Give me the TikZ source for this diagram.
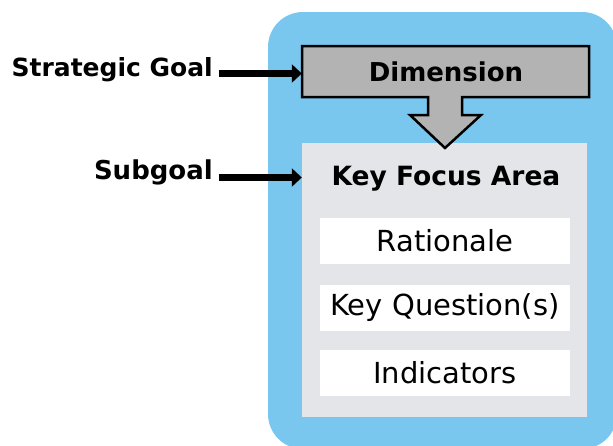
\documentclass[tikz,border=0pt]{standalone}
\usepackage{fontspec}
\setmainfont{DejaVu Sans}
\usetikzlibrary{arrows.meta}
\definecolor{bgblue}{HTML}{79C7EE}
\definecolor{dimgray}{HTML}{B3B3B3}
\definecolor{kfagray}{HTML}{E4E5E9}
\tikzset{
  bigbold/.style={font=\bfseries\fontsize{26}{30}\selectfont},
  lbl/.style={bigbold, anchor=east, inner sep=0pt},
  conn/.style={line width=6.5pt, -{Triangle[length=10pt,width=18pt]}, shorten >=0pt},
  itembox/.style={fill=white, minimum width=250pt, minimum height=46pt, inner sep=0pt, font=\fontsize{29}{32}\selectfont},
}
\begin{document}
\begin{tikzpicture}[x=1pt,y=-1pt]
\useasboundingbox (0,0) rectangle (613,445);
\begin{scope}
\clip (0,0) rectangle (613,445);
\fill[bgblue, rounded corners=35pt] (268,12) rectangle (617,449);
\end{scope}
% key focus area box
\node[fill=kfagray, minimum width=285pt, minimum height=274pt, inner sep=0pt] (kfa) at (444.5,280) {};
\node[bigbold, font=\bfseries\fontsize{26.5}{30}\selectfont] (kfat) at (446,178.5) {Key Focus Area};
% dimension shape
\draw[fill=dimgray, line width=2.5pt, line join=miter]
  (302,46) -- (589,46) -- (589,97) -- (462,97) -- (462,115) -- (481,115) -- (445,148)
  -- (410,115) -- (428,115) -- (428,97) -- (302,97) -- cycle;
\node[minimum width=287pt, minimum height=51pt, inner sep=0pt] (dim) at (445.5,71.5) {};
\node[bigbold] (dimt) at (446,72) {Dimension};
% items
\node[itembox] (rat) at (445,241) {Rationale};
\node[itembox] (kq) at (445,307.5) {Key Question(s)};
\node[itembox] (ind) at (445,372.5) {Indicators};
% labels
\node[lbl, font=\bfseries\fontsize{25}{30}\selectfont] (sg) at (213,70) {Strategic Goal};
\node[lbl] (sub) at (213,172) {Subgoal};
\coordinate (sga) at (219,73.5);
\coordinate (suba) at (219,177.5);
\draw[conn] (sga) -- (sga -| dim.west);
\draw[conn] (suba) -- (suba -| kfa.west);
\end{tikzpicture}
\end{document}
